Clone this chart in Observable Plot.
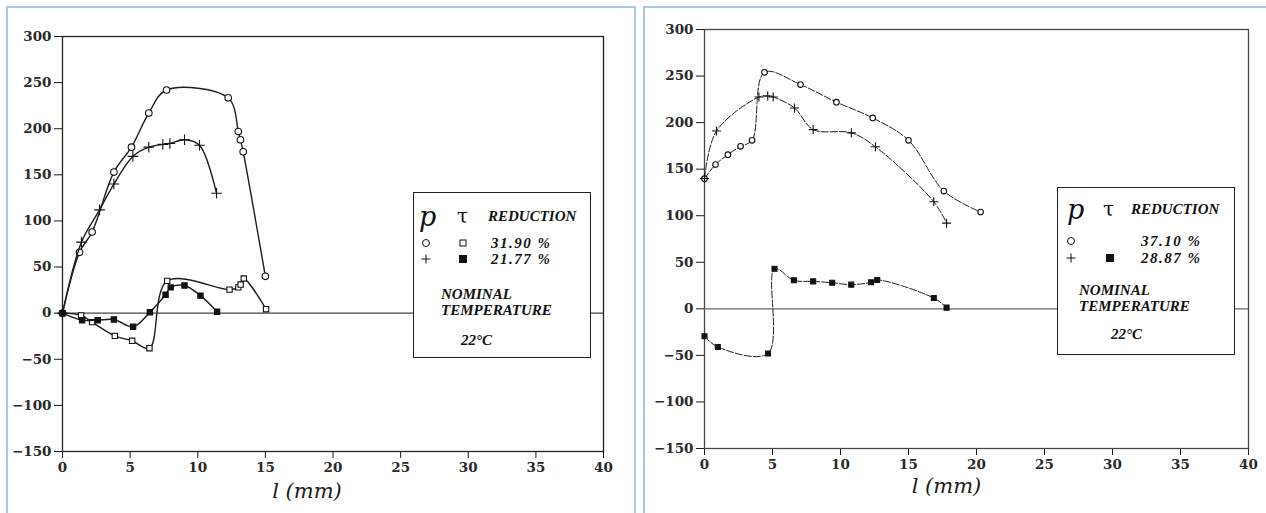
<!DOCTYPE html>
<html>
<head>
<meta charset="utf-8">
<script src="https://cdn.jsdelivr.net/npm/d3@7"></script>
<script src="https://cdn.jsdelivr.net/npm/@observablehq/plot@0.6"></script>
<style>
  html, body { margin: 0; padding: 0; background: #fff; }
  body { position: relative; width: 1266px; height: 513px; overflow: hidden; }
  .panel { position: absolute; top: 0; }
  .panel svg g[aria-label$="tick label"] { font-family: "DejaVu Serif", serif; font-size: 13.5px; font-weight: bold; fill: #2a2a2a; }
  .pane-border { position: absolute; top: 6px; height: 540px; border: 2px solid #a7c7e7; box-sizing: border-box; pointer-events: none; }
  .legend { position: absolute; background: #fff; border: 1.3px solid #222; box-sizing: border-box;
            font-family: "Liberation Serif", serif; color: #111; }
  .legend .t { position: absolute; transform: translateY(-50%); white-space: pre; line-height: 1; }
  .legend .head-p { font-family: "DejaVu Serif", serif; font-style: italic; font-size: 27px; }
  .legend .head-tau { font-family: "DejaVu Serif", serif; font-size: 20px; }
  .legend .bi { font-weight: bold; font-style: italic; font-size: 15px; }
  .legend .val { font-weight: bold; font-style: italic; font-size: 15px; letter-spacing: 1.5px; }
  .legend .temp { font-style: italic; font-weight: bold; font-size: 15px; }
  .sym { position: absolute; transform: translate(-50%, -50%); box-sizing: border-box; }
  .sym.circle { width: 8px; height: 8px; border: 1.3px solid #111; border-radius: 50%; }
  .sym.osq { width: 7px; height: 7px; border: 1.3px solid #111; }
  .sym.fsq { width: 8px; height: 8px; background: #111; }
  .sym.plus { width: 9px; height: 9px; }
  .sym.plus::before, .sym.plus::after { content: ""; position: absolute; background: #111; }
  .sym.plus::before { left: 0; right: 0; top: 4px; height: 1.2px; }
  .sym.plus::after { top: 0; bottom: 0; left: 4px; width: 1.2px; }
</style>
</head>
<body>
<div id="left" class="panel" style="left:0"></div>
<div id="right" class="panel" style="left:636px"></div>
<div class="pane-border" style="left:6px; width:630px"></div>
<div class="pane-border" style="left:643px; width:700px"></div>
<script>
// Axis ticks shared by both panels
const xTicks = [0, 5, 10, 15, 20, 25, 30, 35, 40];
const yTicks = [-150, -100, -50, 0, 50, 100, 150, 200, 250, 300];

// Left panel: [l (mm), value] pairs
const leftP1 = [[0,0],[1.26,66],[2.19,88],[3.8,153],[5.1,180],[6.38,217],[7.69,242],[12.25,233.5],[13.0,197],[13.16,188],[13.36,175],[15.0,40]];
const leftP2 = [[0,0],[1.4,77],[2.74,112],[3.8,140],[5.2,170],[6.38,180],[7.42,183],[7.94,184],[9.02,188],[10.13,182],[11.39,130]];
const leftT1 = [[0,0],[1.38,-2.5],[2.19,-9.7],[3.87,-24.6],[5.15,-30],[6.43,-38],[7.74,35],[12.35,25.5],[13.0,28],[13.17,31],[13.4,37.6],[15.05,4.3]];
const leftT2 = [[0,0],[1.45,-7.6],[2.6,-7.6],[3.8,-6.9],[5.22,-14.8],[6.46,1],[7.62,20],[8.0,28],[9.02,30],[10.2,19],[11.43,1.6]];

// Right panel: [l (mm), value] pairs
const rightP1 = [[0,139.8],[0.81,155],[1.72,165.6],[2.65,174.5],[3.5,181],[4.41,254],[7.06,240.8],[9.7,222],[12.37,205],[15.0,181],[17.6,126.5],[20.3,104]];
const rightP2 = [[0,140],[0.88,191],[4.0,227.5],[4.65,228.6],[5.05,227.5],[6.62,215.7],[7.99,192.5],[10.8,189],[12.57,174],[16.86,115],[17.8,92]];
const rightT2 = [[0,-29.5],[0.98,-41],[4.67,-48],[5.15,43],[6.57,30.6],[7.99,29.5],[9.39,28],[10.79,26],[12.25,28.5],[12.7,31],[16.86,11.6],[17.8,1.3]];

// Legend text
const axisLabel = "l (mm)";
const leftReductions = ["31.90 %", "21.77 %"];
const rightReductions = ["37.10 %", "28.87 %"];
const legendHead = ["p", "\u03c4", "REDUCTION"];
const tempLines = ["NOMINAL", "TEMPERATURE", "22\u00b0C"];

const fmt = d3.format("d");
const toRows = (pairs) => pairs.map(([l, v]) => ({l, v}));

function seriesMarks(pairs, {symbol, r, fill, dash, strokeWidth}) {
  const rows = toRows(pairs);
  return [
    Plot.line(rows, {x: "l", y: "v", curve: "catmull-rom", stroke: "#1e1e1e", strokeWidth, strokeDasharray: dash}),
    Plot.dot(rows, {x: "l", y: "v", symbol, r, fill, stroke: "#111", strokeWidth: 1.1})
  ];
}

function panel({width, height, margins, series, frameStroke, zeroStroke, labelDx, labelDy}) {
  return Plot.plot({
    width, height,
    marginLeft: margins[0], marginRight: margins[1], marginTop: margins[2], marginBottom: margins[3],
    style: {fontFamily: "DejaVu Serif", fontSize: "14px", color: "#1a1a1a", background: "transparent"},
    x: {domain: [0, 40], ticks: xTicks, tickSize: 7, tickPadding: 4, tickFormat: fmt, label: null},
    y: {domain: [-150, 300], ticks: yTicks, tickSize: 8, tickPadding: 3, tickFormat: fmt, label: null},
    marks: [
      Plot.frame({stroke: frameStroke, strokeWidth: 1.3}),
      Plot.ruleY([0], {stroke: zeroStroke, strokeWidth: 1.2}),
      ...series.flat(),
      Plot.text([axisLabel], {text: d => d, frameAnchor: "bottom", dx: labelDx, dy: labelDy,
        fontStyle: "italic", fontSize: 21, fontFamily: "DejaVu Serif"})
    ]
  });
}

const leftSeries = [
  seriesMarks(leftP1, {symbol: "circle", r: 3.3, fill: "white", strokeWidth: 1.4}),
  seriesMarks(leftP2, {symbol: "plus", r: 3.5, fill: "none", strokeWidth: 1.4}),
  seriesMarks(leftT1, {symbol: "square", r: 3, fill: "white", strokeWidth: 1.4}),
  seriesMarks(leftT2, {symbol: "square", r: 3, fill: "#111", strokeWidth: 1.4})
];
const rightSeries = [
  seriesMarks(rightP1, {symbol: "circle", r: 2.8, fill: "white", strokeWidth: 1, dash: "7,2"}),
  seriesMarks(rightP2, {symbol: "plus", r: 3, fill: "none", strokeWidth: 1, dash: "7,2"}),
  seriesMarks(rightT2, {symbol: "square", r: 2.8, fill: "#111", strokeWidth: 1, dash: "7,2"})
];

document.getElementById("left").append(panel({
  width: 636, height: 513, margins: [62, 33, 36, 62], series: leftSeries,
  frameStroke: "#222", zeroStroke: "#444", labelDx: -26, labelDy: 46
}));
document.getElementById("right").append(panel({
  width: 630, height: 513, margins: [68, 18, 29, 65], series: rightSeries,
  frameStroke: "#444", zeroStroke: "#666", labelDx: -30, labelDy: 44
}));

// Boxed key drawn over each panel
function legend({left, top, w, h, reductions, showOpenSquare, rows, heads, temps}) {
  const box = document.createElement("div");
  box.className = "legend";
  Object.assign(box.style, {left: left + "px", top: top + "px", width: w + "px", height: h + "px"});
  const addText = (txt, cls, x, y) => {
    const s = document.createElement("span");
    s.className = "t " + cls;
    s.textContent = txt;
    s.style.left = x + "px"; s.style.top = y + "px";
    box.append(s);
  };
  const addSym = (cls, x, y) => {
    const s = document.createElement("span");
    s.className = "sym " + cls;
    s.style.left = x + "px"; s.style.top = y + "px";
    box.append(s);
  };
  addText(legendHead[0], "head-p", heads[0], heads[3]);
  addText(legendHead[1], "head-tau", heads[1], heads[3]);
  addText(legendHead[2], "bi", heads[2], heads[3]);
  addSym("circle", rows.sym1, rows.y1);
  if (showOpenSquare) addSym("osq", rows.sym2, rows.y1);
  addText(reductions[0], "val", rows.val, rows.y1);
  addSym("plus", rows.sym1, rows.y2);
  addSym("fsq", rows.sym2, rows.y2);
  addText(reductions[1], "val", rows.val, rows.y2);
  addText(tempLines[0], "temp", temps.x, temps.y1);
  addText(tempLines[1], "temp", temps.x, temps.y2);
  addText(tempLines[2], "temp", temps.x3, temps.y3);
  document.body.append(box);
}

legend({left: 413, top: 192, w: 178, h: 166, reductions: leftReductions, showOpenSquare: true,
  heads: [5, 43, 74, 23], rows: {sym1: 12, sym2: 49, val: 77, y1: 50, y2: 66},
  temps: {x: 27, x3: 47, y1: 101, y2: 117, y3: 147}});
legend({left: 1057, top: 187, w: 178, h: 168, reductions: rightReductions, showOpenSquare: false,
  heads: [9, 45, 73, 21], rows: {sym1: 13, sym2: 52, val: 83, y1: 53, y2: 70},
  temps: {x: 21, x3: 53, y1: 102, y2: 118, y3: 146}});
</script>
</body>
</html>
